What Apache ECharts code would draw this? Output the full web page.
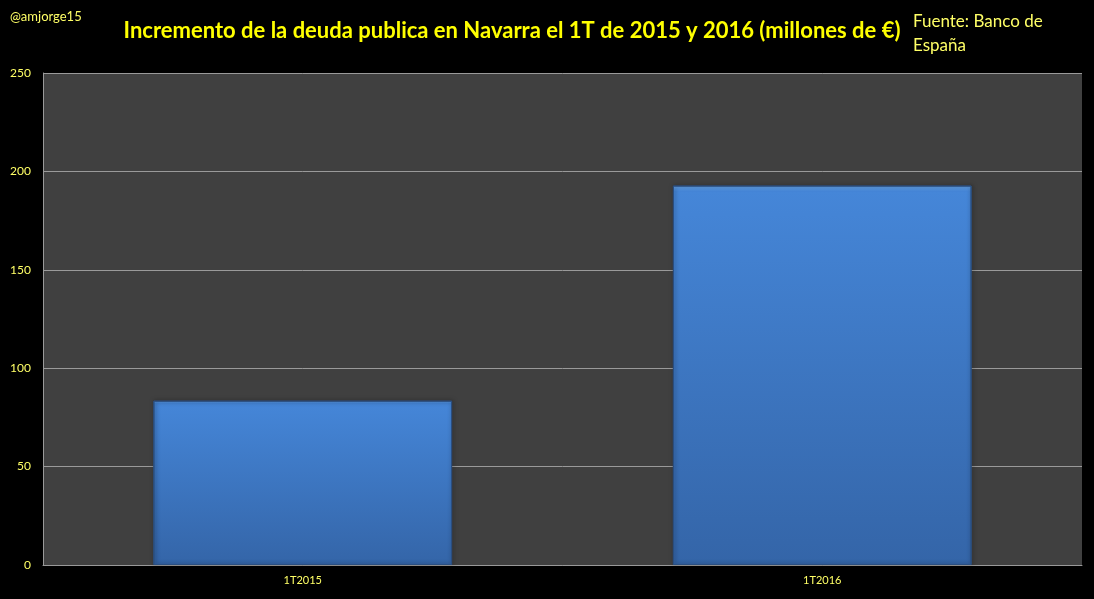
<!DOCTYPE html>
<html>
<head>
<meta charset="utf-8">
<script src="https://cdn.jsdelivr.net/npm/echarts@6/dist/echarts.min.js"></script>
<style>
  html, body { margin: 0; padding: 0; background: #000; }
  #chart { width: 1094px; height: 599px; }
</style>
</head>
<body>
<div id="chart"></div>
<script>
const categories = ['1T2015', '1T2016']
const deudaValues = [83.5, 192.8]
const yTicks = { min: 0, max: 250, interval: 50 }

const chart = echarts.init(document.getElementById('chart'))
const font = 'Lato, "Open Sans", sans-serif'

const opt = {
  backgroundColor: '#000',
  textStyle: { fontFamily: font },
  title: [
    {
      text: 'Incremento de la deuda publica en Navarra el 1T de 2015 y 2016 (millones de €)',
      left: 507,
      top: 15,
      textAlign: 'center',
      textStyle: { color: '#ffff00', fontSize: 22, fontWeight: 'bold', fontFamily: font },
    },
    {
      text: '@amjorge15',
      left: 5,
      top: 5,
      textStyle: { color: '#ffff66', fontSize: 13, fontWeight: 'normal', fontFamily: font },
    },
    {
      text: 'Fuente: Banco de\nEspaña',
      left: 908,
      top: 5,
      textStyle: { color: '#ffff66', fontSize: 17, fontWeight: 'normal', lineHeight: 24, fontFamily: font },
    },
  ],
  grid: {
    left: 43,
    right: 12,
    top: 73,
    bottom: 34,
    show: true,
    backgroundColor: '#404040',
    borderWidth: 0,
  },
  xAxis: {
    type: 'category',
    data: categories,
    axisLine: { show: true, lineStyle: { color: '#999', width: 1 } },
    axisTick: { show: false },
    axisLabel: { color: '#ffff66', fontSize: 11, margin: 10 },
  },
  yAxis: {
    type: 'value',
    min: yTicks.min,
    max: yTicks.max,
    interval: yTicks.interval,
    axisLine: { show: true, lineStyle: { color: '#999', width: 1 } },
    axisTick: { show: false },
    axisLabel: { color: '#ffff66', fontSize: 12, margin: 12 },
    splitLine: { show: true, lineStyle: { color: '#9a9a9a', width: 1 } },
  },
  series: [
    {
      type: 'bar',
      data: deudaValues,
      barWidth: '57.5%',
      itemStyle: {
        color: new echarts.graphic.LinearGradient(0, 0, 0, 1, [
          { offset: 0, color: '#6aaaf0' },
          { offset: 0.015, color: '#4586d8' },
          { offset: 1, color: '#3465a8' },
        ]),
        borderColor: '#2b4f80',
        borderWidth: 1,
        shadowColor: 'rgba(0,0,0,0.5)',
        shadowBlur: 4,
        shadowOffsetX: 1,
      },
    },
  ],
}

chart.setOption(opt)
</script>
</body>
</html>
